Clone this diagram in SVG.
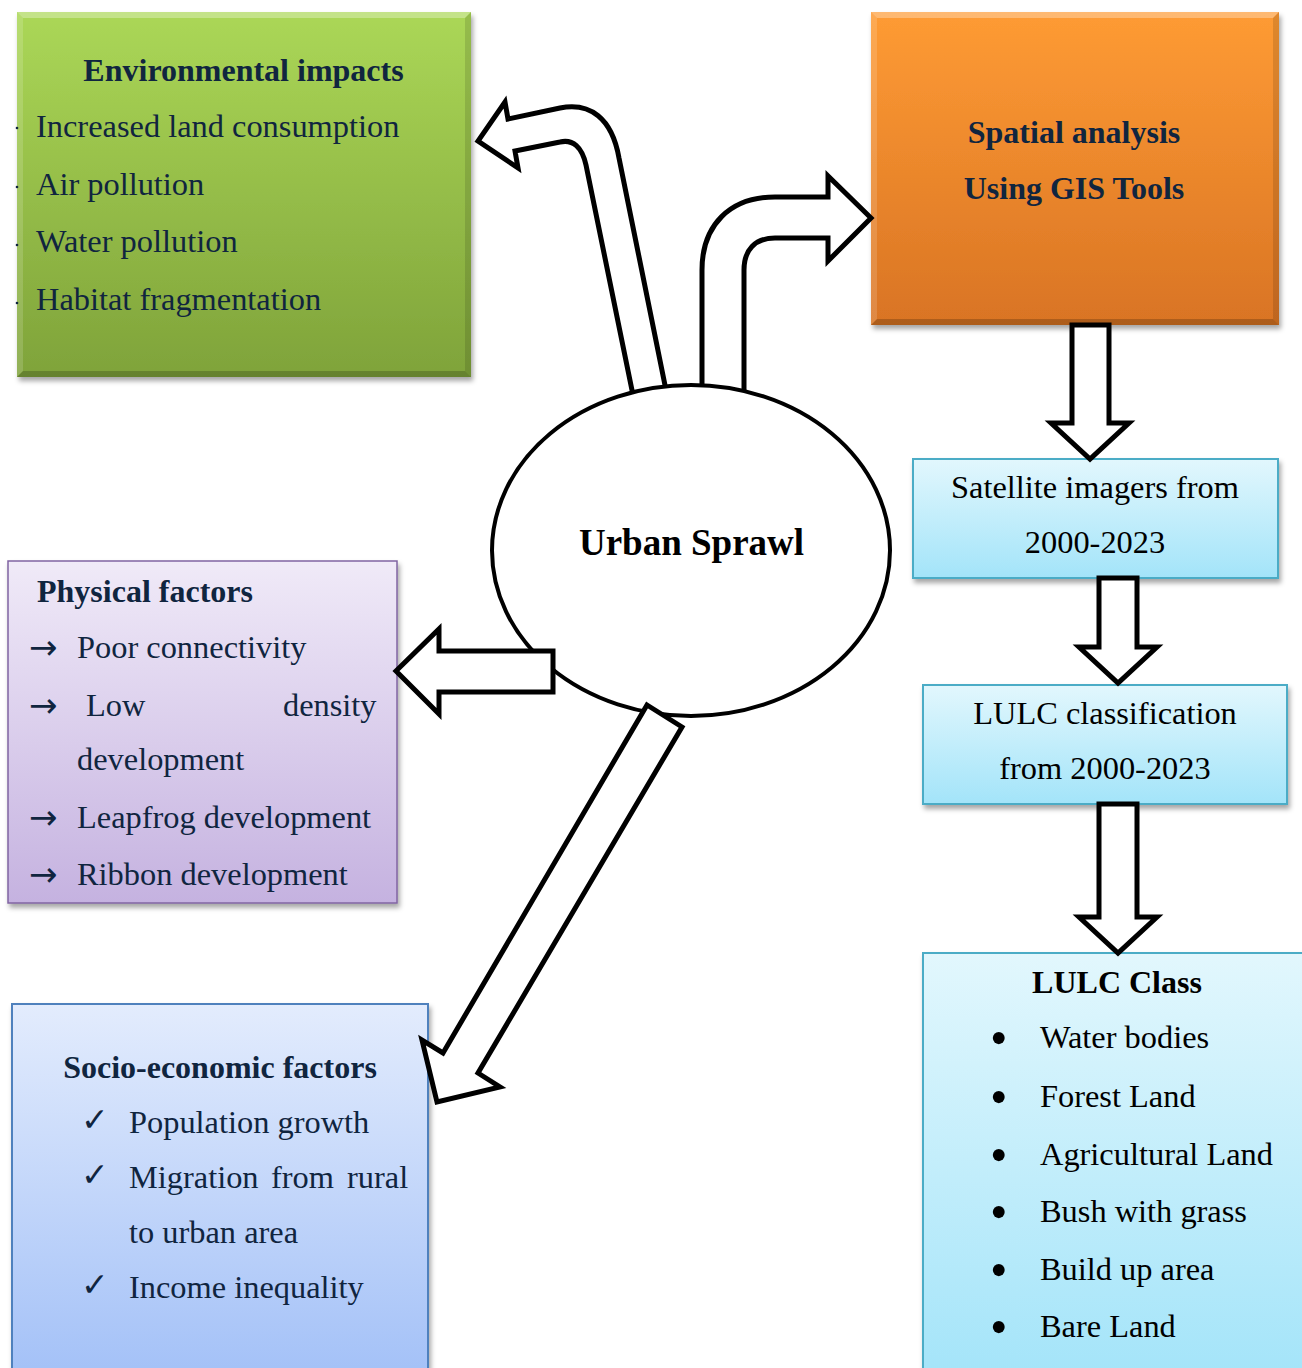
<svg xmlns="http://www.w3.org/2000/svg" width="1302" height="1368" viewBox="0 0 1302 1368">
<defs>
<linearGradient id="gGreen" x1="0" y1="0" x2="0" y2="1"><stop offset="0" stop-color="#abd757"/><stop offset="1" stop-color="#7fa33a"/></linearGradient>
<linearGradient id="gOrange" x1="0" y1="0" x2="0" y2="1"><stop offset="0" stop-color="#fe9b34"/><stop offset="1" stop-color="#d97424"/></linearGradient>
<linearGradient id="gPurple" x1="0" y1="0" x2="0" y2="1"><stop offset="0" stop-color="#f0eaf8"/><stop offset="1" stop-color="#c5b2e0"/></linearGradient>
<linearGradient id="gBlue" x1="0" y1="0" x2="0" y2="1"><stop offset="0" stop-color="#e3ecfd"/><stop offset="1" stop-color="#a2c0f7"/></linearGradient>
<linearGradient id="gCyan" x1="0" y1="0" x2="0" y2="1"><stop offset="0" stop-color="#e2f7fd"/><stop offset="1" stop-color="#a3e4f9"/></linearGradient>
<filter id="shadow" x="-5%" y="-5%" width="112%" height="115%"><feDropShadow dx="2" dy="4" stdDeviation="2.5" flood-color="#000" flood-opacity="0.35"/></filter>
<style>
.t{font-family:"Liberation Serif","Times New Roman",serif;font-size:32.4px;fill:#10253f}
.k{font-family:"Liberation Serif","Times New Roman",serif;font-size:32.4px;fill:#000}
.b{font-weight:bold;font-size:32px}
.c{text-anchor:middle}
.chk{font-family:"DejaVu Sans",sans-serif;font-size:33px;fill:#10253f}
.ar{font-family:"DejaVu Sans",sans-serif;font-size:34px;fill:#10253f}
.bul{font-family:"Liberation Serif","Times New Roman",serif;font-size:50px;fill:#000}
.hl{fill:#fff;opacity:0.3}
.hl2{fill:#fff;opacity:0.15}
.sh{fill:#000;opacity:0.12}
.sh2{fill:#000;opacity:0.2}
.arr{fill:#fff;stroke:#000;stroke-width:5;stroke-linejoin:miter}
</style>
</defs>

<g id="environmental-impacts">
<rect x="17" y="12" width="454" height="365" fill="url(#gGreen)" filter="url(#shadow)"/>
<polygon class="hl" points="17,12 471,12 465,18 23,18"/>
<polygon class="hl2" points="17,12 23,18 23,371 17,377"/>
<polygon class="sh" points="471,12 471,377 465,371 465,18"/>
<polygon class="sh2" points="17,377 471,377 465,371 23,371"/>
<g fill="#10253f"><circle cx="17" cy="128" r="1.3"/><circle cx="17" cy="187" r="1.3"/><circle cx="17" cy="245" r="1.3"/><circle cx="17" cy="303" r="1.3"/></g>
<text class="t b c" x="243.5" y="81">Environmental impacts</text>
<text class="t" x="36" y="137">Increased land consumption</text>
<text class="t" x="36" y="195">Air pollution</text>
<text class="t" x="36" y="252">Water pollution</text>
<text class="t" x="36" y="310">Habitat fragmentation</text>
</g>

<g id="spatial-analysis">
<rect x="871" y="12" width="408" height="313" fill="url(#gOrange)" filter="url(#shadow)"/>
<polygon class="hl" points="871,12 1279,12 1273,18 877,18"/>
<polygon class="hl2" points="871,12 877,18 877,319 871,325"/>
<polygon class="sh" points="1279,12 1279,325 1273,319 1273,18"/>
<polygon class="sh2" points="871,325 1279,325 1273,319 877,319"/>
<text class="t b c" x="1074" y="143">Spatial analysis</text>
<text class="t b c" x="1074" y="199">Using GIS Tools</text>
</g>

<g id="physical-factors">
<rect x="8" y="561" width="389" height="342" fill="url(#gPurple)" stroke="#8064a2" stroke-width="1.5" filter="url(#shadow)"/>
<text class="t b" x="37" y="602">Physical factors</text>
<text class="ar" x="29" y="659">→</text><text class="t" x="77" y="658">Poor connectivity</text>
<text class="ar" x="29" y="717">→</text><text class="t" x="86" y="716">Low<tspan x="283">density</tspan></text>
<text class="t" x="77" y="770">development</text>
<text class="ar" x="29" y="829">→</text><text class="t" x="77" y="828">Leapfrog development</text>
<text class="ar" x="29" y="886">→</text><text class="t" x="77" y="885">Ribbon development</text>
</g>

<g id="socio-economic-factors">
<rect x="12" y="1004" width="416" height="380" fill="url(#gBlue)" stroke="#4f81bd" stroke-width="2" filter="url(#shadow)"/>
<text class="t b c" x="220" y="1078">Socio-economic factors</text>
<text class="chk" x="81" y="1131">✓</text><text class="t" x="129" y="1133">Population growth</text>
<text class="chk" x="81" y="1186">✓</text><text class="t" x="129" y="1188">Migration<tspan x="271">from</tspan><tspan x="347">rural</tspan></text>
<text class="t" x="129" y="1243">to urban area</text>
<text class="chk" x="81" y="1296">✓</text><text class="t" x="129" y="1298">Income inequality</text>
</g>

<g id="satellite-imagers">
<rect x="913" y="459" width="365" height="119" fill="url(#gCyan)" stroke="#4bacc6" stroke-width="2" filter="url(#shadow)"/>
<text class="k c" x="1095" y="498">Satellite imagers from</text>
<text class="k c" x="1095" y="553">2000-2023</text>
</g>

<g id="lulc-classification">
<rect x="923" y="685" width="364" height="119" fill="url(#gCyan)" stroke="#4bacc6" stroke-width="2" filter="url(#shadow)"/>
<text class="k c" x="1105" y="724">LULC classification</text>
<text class="k c" x="1105" y="779">from 2000-2023</text>
</g>

<g id="lulc-class">
<rect x="923" y="953" width="400" height="430" fill="url(#gCyan)" stroke="#4bacc6" stroke-width="2" filter="url(#shadow)"/>
<text class="k b c" x="1117" y="993">LULC Class</text>
<text class="bul" x="990" y="1055">•</text><text class="k" x="1040" y="1048">Water bodies</text>
<text class="bul" x="990" y="1114">•</text><text class="k" x="1040" y="1107">Forest Land</text>
<text class="bul" x="990" y="1172">•</text><text class="k" x="1040" y="1165">Agricultural Land</text>
<text class="bul" x="990" y="1229">•</text><text class="k" x="1040" y="1222">Bush with grass</text>
<text class="bul" x="990" y="1287">•</text><text class="k" x="1040" y="1280">Build up area</text>
<text class="bul" x="990" y="1344">•</text><text class="k" x="1040" y="1337">Bare Land</text>
</g>

<g id="connectors">
<path class="arr" d="M 634 400 L 586 165 C 582 147 573 139 560 142 L 515 151 L 518 168 L 478 141 L 505 102 L 508 119 L 560 108 C 590 102 612 118 619 158 L 668 400 Z"/>
<path class="arr" d="M 702 400 L 702 270 C 702 225 730 197 775 197 L 828 197 L 828 176 L 871 218 L 828 261 L 828 238 L 775 238 C 755 238 744 250 744 270 L 744 400 Z"/>
<path class="arr" d="M 1072 325 L 1109 325 L 1109 423 L 1129 423 L 1090 459 L 1051 423 L 1072 423 Z"/>
<path class="arr" d="M 1099 578 L 1137 578 L 1137 647 L 1157 647 L 1118 683 L 1079 647 L 1099 647 Z"/>
<path class="arr" d="M 1099 804 L 1137 804 L 1137 917 L 1157 917 L 1118 953 L 1079 917 L 1099 917 Z"/>
</g>

<g id="urban-sprawl">
<ellipse cx="691" cy="550.5" rx="199" ry="165.5" fill="#fff" stroke="#000" stroke-width="4"/>
<text class="k b c" x="691.5" y="555" style="font-size:37px">Urban Sprawl</text>
</g>

<g id="connectors-front">
<path class="arr" d="M 553 651 L 439 651 L 439 629 L 396 671 L 439 714 L 439 692 L 553 692 Z"/>
<path class="arr" d="M 647 705 L 682 727 L 478 1073 L 500 1087 L 437 1102 L 422 1040 L 443 1053 Z"/>
</g>
</svg>
